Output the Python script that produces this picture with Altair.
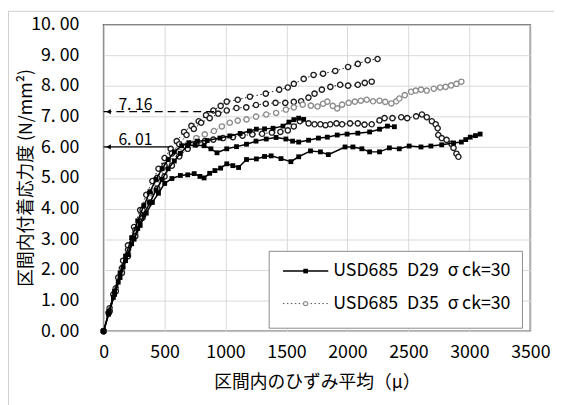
import altair as alt
import pandas as pd

# ---------------- axis ticks ----------------
x_ticks = [0, 500, 1000, 1500, 2000, 2500, 3000, 3500]
y_ticks = [0, 1, 2, 3, 4, 5, 6, 7, 8, 9, 10]

# ---------------- USD685 D29 (solid line, filled squares) ----------------
d29_a_x = [0, 40, 80, 120, 160, 200, 250, 300, 350, 400, 450, 501, 560, 630, 690, 743, 790, 824, 870, 913,
           960, 1010, 1060, 1107, 1172, 1253, 1320, 1374, 1455, 1536, 1600, 1697, 1778, 1843, 1980, 2045,
           2118, 2182, 2263, 2344, 2425, 2506, 2603, 2684, 2773, 2870, 2934, 2970, 3007, 3050, 3088]
d29_a_y = [0, 0.55, 1.1, 1.6, 2.1, 2.5, 3.0, 3.45, 3.85, 4.2, 4.5, 4.82, 4.98, 5.08, 5.1, 5.14, 5.05, 5.0, 5.15, 5.24,
           5.32, 5.46, 5.4, 5.34, 5.6, 5.62, 5.7, 5.72, 5.63, 5.53, 5.69, 5.88, 5.85, 5.76, 6.01, 6.01,
           5.95, 5.85, 5.85, 5.98, 5.95, 6.04, 6.01, 6.04, 6.08, 6.14, 6.17, 6.25, 6.33, 6.38, 6.43]

d29_b_x = [0, 45, 90, 135, 180, 230, 280, 330, 380, 430, 480, 530, 580, 630, 687, 750, 824, 880, 930, 1010,
           1090, 1172, 1250, 1334, 1415, 1495, 1550, 1600, 1681, 1762, 1835, 1916, 1997, 2085, 2182, 2263,
           2328, 2385]
d29_b_y = [0, 0.6, 1.2, 1.75, 2.3, 2.85, 3.35, 3.8, 4.2, 4.6, 4.95, 5.3, 5.55, 5.8, 6.05, 6.07, 6.05, 5.95, 5.82, 5.95,
           6.02, 6.1, 6.2, 6.27, 6.32, 6.27, 6.2, 6.17, 6.23, 6.3, 6.33, 6.4, 6.43, 6.46, 6.5, 6.59,
           6.69, 6.67]

d29_c_x = [0, 45, 90, 135, 180, 230, 280, 330, 380, 430, 480, 530, 580, 640, 700, 770, 850, 954, 1035, 1120,
           1196, 1253, 1320, 1390, 1471, 1520, 1560, 1600, 1641]
d29_c_y = [0, 0.65, 1.3, 1.9, 2.45, 3.05, 3.6, 4.1, 4.55, 4.95, 5.3, 5.6, 5.85, 6.05, 6.15, 6.2, 6.22, 6.3, 6.37, 6.45,
           6.53, 6.59, 6.6, 6.62, 6.69, 6.82, 6.9, 6.95, 6.91]

# ---------------- USD685 D35 (dotted line, open circles) ----------------
d35_1_x = [0, 40, 80, 120, 160, 200, 250, 300, 350, 400, 450, 500, 550, 600, 660, 720, 780, 840, 900, 960,
           1010, 1100, 1200, 1330, 1440, 1511, 1560, 1641, 1722, 1800, 1900, 2005, 2085, 2166, 2247]
d35_1_y = [0, 0.6, 1.2, 1.75, 2.3, 2.8, 3.4, 3.95, 4.45, 4.9, 5.3, 5.65, 5.95, 6.2, 6.5, 6.7, 6.85, 7.05, 7.2, 7.35,
           7.49, 7.55, 7.65, 7.75, 7.88, 7.95, 8.07, 8.23, 8.36, 8.4, 8.49, 8.62, 8.72, 8.84, 8.88]

d35_2_x = [0, 50, 100, 150, 200, 260, 320, 380, 440, 500, 560, 620, 680, 740, 800, 870, 940, 1010, 1090, 1170,
           1250, 1330, 1410, 1490, 1560, 1620, 1680, 1730, 1790, 1860, 1940, 2005, 2085, 2142, 2199]
d35_2_y = [0, 0.75, 1.4, 2.05, 2.65, 3.3, 3.95, 4.5, 5.0, 5.4, 5.8, 6.1, 6.4, 6.6, 6.8, 6.95, 7.1, 7.2, 7.28, 7.3,
           7.38, 7.42, 7.45, 7.45, 7.48, 7.5, 7.62, 7.75, 7.88, 7.97, 8.04, 8.01, 8.04, 8.1, 8.14]

d35_3_x = [0, 50, 100, 150, 200, 260, 320, 380, 440, 500, 560, 620, 690, 760, 830, 905, 970, 1035, 1100, 1172,
           1250, 1334, 1415, 1495, 1560, 1633, 1700, 1754, 1800, 1835, 1880, 1916, 1956, 2010, 2061, 2110,
           2158, 2210, 2263, 2310, 2360, 2400, 2425, 2470, 2522, 2560, 2603, 2650, 2708, 2760, 2805, 2850,
           2894, 2934]
d35_3_y = [0, 0.7, 1.35, 1.95, 2.55, 3.2, 3.8, 4.35, 4.8, 5.2, 5.55, 5.85, 6.1, 6.3, 6.42, 6.53, 6.68, 6.8, 6.87, 6.91,
           7.0, 7.07, 7.12, 7.23, 7.3, 7.39, 7.36, 7.33, 7.42, 7.49, 7.35, 7.27, 7.39, 7.45, 7.49, 7.52,
           7.55, 7.5, 7.52, 7.48, 7.43, 7.5, 7.59, 7.7, 7.81, 7.85, 7.88, 7.85, 7.91, 7.95, 7.97, 8.02,
           8.07, 8.14]

d35_4_x = [0, 50, 100, 150, 200, 260, 320, 380, 440, 500, 560, 620, 690, 760, 830, 900, 980, 1060, 1140, 1220,
           1300, 1380, 1450, 1511, 1560, 1610, 1681, 1730, 1778, 1820, 1859, 1910, 1956, 2021, 2085, 2140,
           2199, 2263, 2304, 2369, 2441, 2490, 2563, 2611, 2651, 2692, 2724, 2740, 2745, 2773, 2813, 2853,
           2870, 2894, 2910]
d35_4_y = [0, 0.65, 1.3, 1.9, 2.45, 3.1, 3.7, 4.2, 4.65, 5.05, 5.4, 5.7, 5.95, 6.1, 6.2, 6.25, 6.3, 6.33, 6.38, 6.42,
           6.44, 6.48, 6.5, 6.55, 6.68, 6.85, 6.78, 6.75, 6.75, 6.72, 6.75, 6.78, 6.75, 6.78, 6.78, 6.74,
           6.75, 6.88, 6.95, 6.95, 6.98, 6.95, 7.01, 7.07, 6.98, 6.85, 6.75, 6.62, 6.4, 6.3, 6.24, 6.11,
           5.98, 5.79, 5.69]

# ---------------- annotations ----------------
ann_y = [6.01, 7.16]
ann_x_end = [540, 950]
ann_labels = ["6. 01", "7. 16"]
ann_kind = ["solid", "dash"]

legend_labels = ["USD685\u2002D29\u2002σ\u2009ck=30", "USD685\u2002D35\u2002σ\u2009ck=30"]

# ---------------- build tables ----------------
rows = []


def add(name, series, tone, xs, ys):
    for i, (a, b) in enumerate(zip(xs, ys)):
        rows.append(dict(curve=name, series=series, tone=tone, i=i, x=a, y=b))


add("a", "D29", "black", d29_a_x, d29_a_y)
add("b", "D29", "black", d29_b_x, d29_b_y)
add("c", "D29", "black", d29_c_x, d29_c_y)
add("1", "D35", "black", d35_1_x, d35_1_y)
add("2", "D35", "black", d35_2_x, d35_2_y)
add("3", "D35", "gray", d35_3_x, d35_3_y)
add("4", "D35", "black", d35_4_x, d35_4_y)
df = pd.DataFrame(rows)

ann = pd.DataFrame({"x": [0, 0], "y": ann_y, "x1": ann_x_end, "label": ann_labels, "kind": ann_kind})

FONT = "Noto Sans CJK JP"

xscale = alt.Scale(domain=[0, 3500], nice=False)
yscale = alt.Scale(domain=[0, 10], nice=False)

xaxis = alt.Axis(values=x_ticks, format="d", title="区間内のひずみ平均（μ）", labelPadding=13,
                 labelFlush=False, labelOverlap=False,
                 grid=True, gridColor="#d9d9d9", gridWidth=1,
                 titleY=52, titleBaseline="middle", titleFontSize=18)
yaxis = alt.Axis(values=y_ticks, title="区間内付着応力度 (N/mm²)", labelPadding=25,
                 labelFlush=False, labelOverlap=False,
                 grid=True, gridColor="#d9d9d9", gridWidth=1,
                 labelExpr="replace(format(datum.value, '.2f'), '.', '. ')",
                 titleX=-78, titleY=155, titleBaseline="middle", titleFontSize=18)


def X():
    return alt.X("x:Q", scale=xscale, axis=xaxis)


def Y():
    return alt.Y("y:Q", scale=yscale, axis=yaxis)


tone_scale = alt.Scale(domain=["black", "gray"], range=["#1e1e1e", "#8c8c8c"])

base = alt.Chart(df)
d35 = base.transform_filter("datum.series == 'D35'")
d29 = base.transform_filter("datum.series == 'D29'")

d35_line = d35.mark_line(strokeDash=[1.5, 2.5], strokeWidth=1).encode(
    x=X(), y=Y(), detail="curve:N", order="i:Q",
    color=alt.Color("tone:N", scale=tone_scale, legend=None))
d35_pts = d35.mark_point(shape="circle", size=28, fill="white", fillOpacity=1, opacity=1, strokeWidth=1.4).encode(
    x=X(), y=Y(), stroke=alt.Stroke("tone:N", scale=tone_scale, legend=None))

d29_line = d29.mark_line(color="black", strokeWidth=1.5).encode(x=X(), y=Y(), detail="curve:N", order="i:Q")
d29_pts = d29.mark_square(size=24, color="black", opacity=1).encode(x=X(), y=Y())

annb = alt.Chart(ann)
ann_rule = annb.mark_rule(color="black", strokeWidth=1.3).encode(
    x=X(), x2="x1:Q", y=Y(),
    strokeDash=alt.StrokeDash("kind:N", scale=alt.Scale(domain=["solid", "dash"], range=[[1, 0], [8, 5]]),
                              legend=None))
ann_head = annb.mark_point(shape="triangle-left", filled=True, color="black", size=28, opacity=1,
                           xOffset=5).encode(x=X(), y=Y())
ann_text = annb.mark_text(align="left", baseline="alphabetic", dx=15, dy=-2, fontSize=16, font=FONT,
                          color="black").encode(x=X(), y=Y(), text="label:N")

# ---------------- legend (drawn) ----------------
one = alt.Chart(pd.DataFrame({"k": [0]}))
leg_box = one.mark_rect(fill="white", stroke="#8a8a8a", strokeWidth=1).encode(
    x=alt.value(168), x2=alt.value(425), y=alt.value(230), y2=alt.value(308))
leg_l1 = one.mark_rule(color="black", strokeWidth=1.4).encode(x=alt.value(182), x2=alt.value(228), y=alt.value(250))
leg_p1 = one.mark_square(size=22, color="black", opacity=1).encode(x=alt.value(205), y=alt.value(250))
leg_t1 = one.mark_text(align="left", baseline="middle", fontSize=18, font=FONT, color="black",
                       text=legend_labels[0]).encode(x=alt.value(233), y=alt.value(250))
leg_l2 = one.mark_rule(color="#555555", strokeWidth=1, strokeDash=[1.5, 2.5]).encode(
    x=alt.value(182), x2=alt.value(228), y=alt.value(283))
leg_p2 = one.mark_point(shape="circle", size=18, fill="white", fillOpacity=1, stroke="#8c8c8c", opacity=1,
                        strokeWidth=1.2).encode(x=alt.value(205), y=alt.value(283))
leg_t2 = one.mark_text(align="left", baseline="middle", fontSize=18, font=FONT, color="black",
                       text=legend_labels[1]).encode(x=alt.value(233), y=alt.value(283))

# outer frame of the figure
frame_l = one.mark_rule(color="#cfcfcf", strokeWidth=1).encode(x=alt.value(-96.5), y=alt.value(-14), y2=alt.value(400))
frame_t = one.mark_rule(color="#cfcfcf", strokeWidth=1).encode(x=alt.value(-97), x2=alt.value(460), y=alt.value(-13.5))

chart = alt.layer(
    d35_line, d35_pts, d29_line, d29_pts, ann_rule, ann_head, ann_text,
    leg_box, leg_l1, leg_p1, leg_t1, leg_l2, leg_p2, leg_t2, frame_l, frame_t
).properties(
    width=433, height=311,
    autosize=alt.AutoSizeParams(type="none"),
    padding={"left": 97, "top": 14, "right": 24, "bottom": 72},
).configure_view(
    stroke="#5a5a5a", strokeWidth=1.5
).configure_axis(
    domain=False, ticks=False,
    labelFont=FONT, labelFontSize=18, labelColor="black",
    titleFont=FONT, titleFontWeight="normal", titleColor="black"
)

chart.save("out.html", embed_options={"renderer": "svg", "actions": False})
